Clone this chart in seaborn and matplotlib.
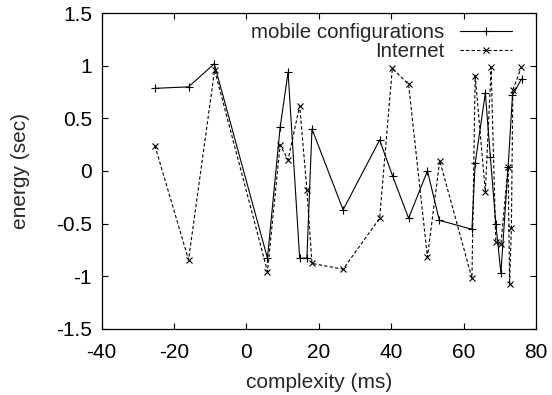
import matplotlib
matplotlib.use("Agg")
import matplotlib.pyplot as plt
import seaborn as sns
import pandas as pd

mobile_x = [-25.3, -16.0, -8.9, 5.8, 9.3, 11.5, 14.7, 16.7, 18.1, 26.7, 36.8, 40.4,
            44.8, 50.0, 53.3, 62.3, 63.2, 66.0, 67.4, 68.9, 70.3, 72.3, 73.5, 76.0]
mobile_y = [0.786, 0.80, 1.02, -0.83, 0.415, 0.94, -0.83, -0.83, 0.40, -0.37, 0.295, -0.05,
            -0.45, 0.0, -0.47, -0.555, 0.075, 0.74, 0.13, -0.507, -0.97, 0.04, 0.72, 0.875]

internet_x = [-25.3, -16.0, -8.8, 5.8, 9.3, 11.5, 14.7, 16.7, 18.1, 26.7, 36.8, 40.3,
              44.8, 50.0, 53.4, 62.3, 63.2, 66.0, 67.6, 68.9, 70.3, 72.3, 72.7, 73.2, 73.6, 75.9]
internet_y = [0.24, -0.846, 0.96, -0.957, 0.247, 0.105, 0.62, -0.18, -0.88, -0.935, -0.45, 0.976,
              0.824, -0.82, 0.098, -1.02, 0.905, -0.197, 0.985, -0.68, -0.694, 0.04, -1.08, -0.54, 0.77, 0.985]

series_names = ["mobile configurations", "Internet"]
x_ticks = [-40, -20, 0, 20, 40, 60, 80]
y_ticks = [-1.5, -1, -0.5, 0, 0.5, 1, 1.5]
y_tick_labels = ["-1.5", "-1", "-0.5", "0", "0.5", "1", "1.5"]

sns.set_style("ticks")
plt.rcParams["font.family"] = ["Liberation Sans", "DejaVu Sans"]

df_m = pd.DataFrame({"x": mobile_x, "y": mobile_y})
df_i = pd.DataFrame({"x": internet_x, "y": internet_y})

fig = plt.figure(figsize=(5.52, 3.95), dpi=100)
ax = fig.add_axes([101.7 / 552, 1 - 328.6 / 395, (536 - 101.7) / 552, (328.6 - 13.3) / 395])

sns.lineplot(data=df_m, x="x", y="y", color="black", linestyle="-", marker="+",
             markersize=5.5, markeredgewidth=0.8, markeredgecolor="black", linewidth=0.8,
             estimator=None, sort=False, label=series_names[0], ax=ax)
sns.lineplot(data=df_i, x="x", y="y", color="black", linestyle=(0, (3, 2)), marker="x",
             markersize=3.8, markeredgewidth=0.8, markeredgecolor="black", linewidth=0.8,
             estimator=None, sort=False, label=series_names[1], ax=ax)

ax.set_xlim(-40, 80)
ax.set_ylim(-1.5, 1.5)
ax.set_xticks(x_ticks)
ax.set_xticklabels([str(v) for v in x_ticks])
ax.set_yticks(y_ticks)
ax.set_yticklabels(y_tick_labels)
ax.tick_params(direction="in", length=4, width=0.8, top=True, right=True,
               labelsize=15, colors="black")
ax.tick_params(axis="x", pad=10.5)
ax.tick_params(axis="y", pad=7)
for sp in ax.spines.values():
    sp.set_linewidth(0.9)
    sp.set_color("black")
ax.set_xlabel("complexity (ms)", fontsize=15)
ax.set_ylabel("energy (sec)", fontsize=15)
ax.xaxis.set_label_coords(0.5, -0.1725)
ax.yaxis.set_label_coords(-0.188, 0.5)
ax.xaxis.label.set_va("center")
ax.yaxis.label.set_va("center")

h, l = ax.get_legend_handles_labels()
ax.legend(h, l, loc="upper right", bbox_to_anchor=(0.9448, 0.969), frameon=False,
          markerfirst=False, fontsize=14.8, handlelength=2.55, handletextpad=0.75,
          labelspacing=0.0, borderaxespad=0.0, borderpad=0.0, title=None)

fig.savefig("out.png", dpi=100)
